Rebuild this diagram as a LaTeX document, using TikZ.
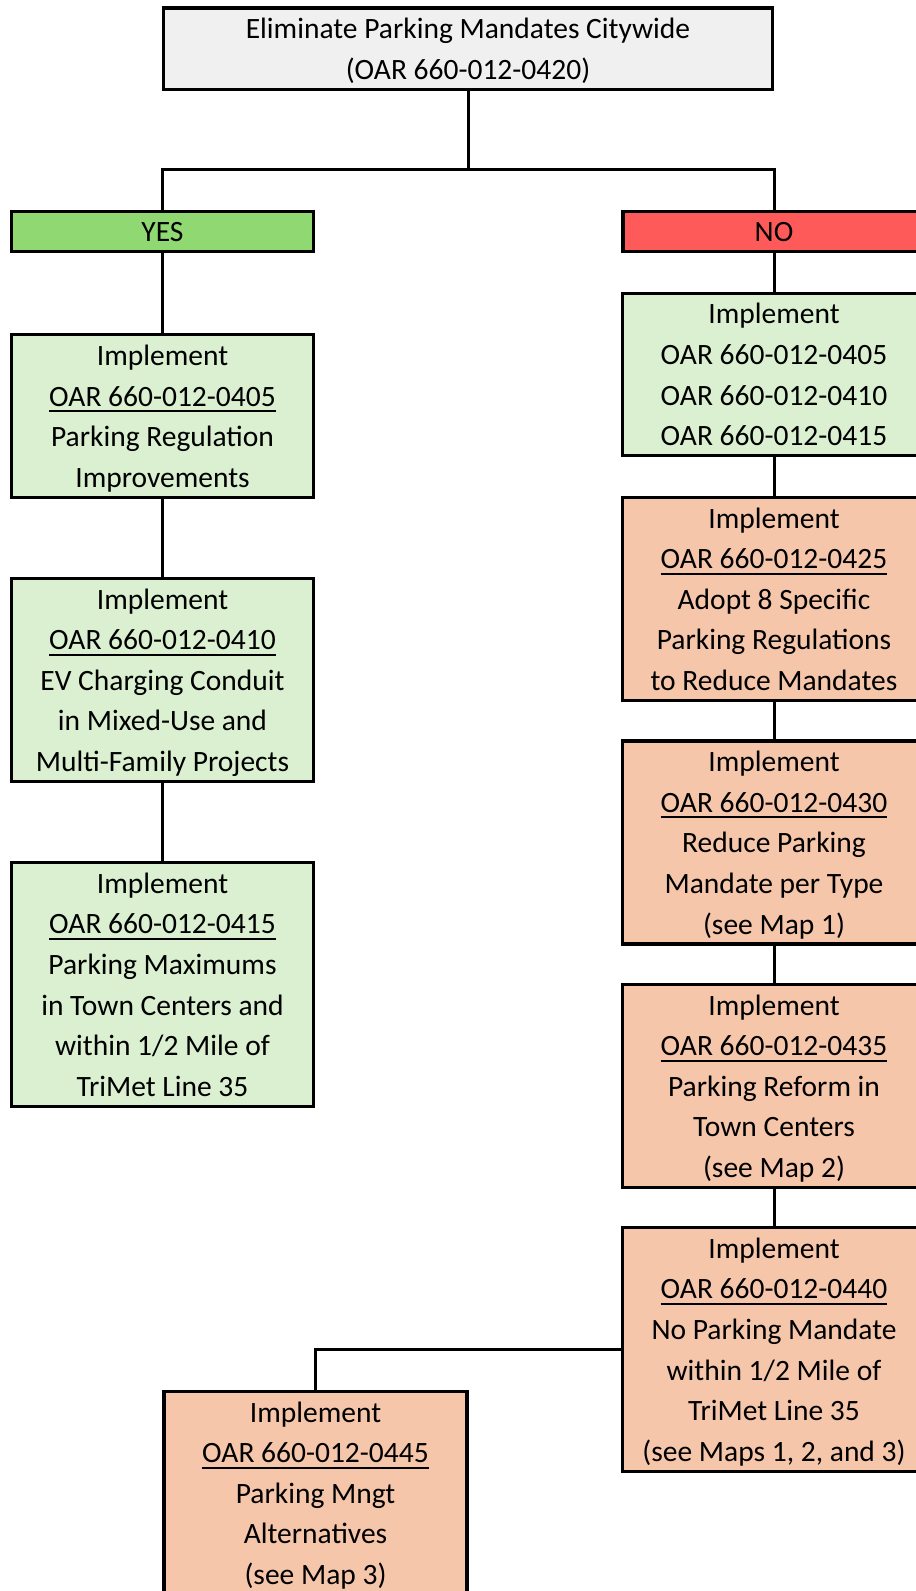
\documentclass[tikz,border=0pt]{standalone}
\usepackage{fontspec}
\setmainfont{Carlito}
\definecolor{topgray}{HTML}{F0F0F0}
\definecolor{yesgreen}{HTML}{90D872}
\definecolor{nored}{HTML}{FF5A5A}
\definecolor{lightgreen}{HTML}{DAF0D0}
\definecolor{peach}{HTML}{F5C6AA}
\newcommand\oarul[1]{\setbox0\hbox{#1}\rlap{\rule[-6pt]{\wd0}{1.9pt}}\box0}
\newcommand\tst{\rule{0pt}{30.6pt}}
\newcommand\bst{\rule[-10pt]{0pt}{10pt}}
\begin{document}
\begin{tikzpicture}[x=1pt,y=-1pt,
  box/.style={draw=black,line width=3.2pt,rectangle,inner sep=0pt,outer sep=0pt,align=center,
    font=\fontsize{29.5}{40.6}\selectfont},
  wire/.style={draw=black,line width=3pt}]
\useasboundingbox (0,0) rectangle (916,1591);
\fill[white] (0,0) rectangle (916,1591);
% top
\node[box,fill=topgray,minimum width=609,minimum height=78] (top) at (468,48.5)
  {\tst Eliminate Parking Mandates Citywide\\(OAR 660-012-0420)\bst};
\node[box,fill=yesgreen,minimum width=302,minimum height=38] (yes) at (162.5,231.5) {\tst YES\bst};
\node[box,fill=nored,minimum width=302,minimum height=38] (no) at (774,231.5) {\tst NO\bst};
% left column
\node[box,fill=lightgreen,minimum width=302,minimum height=160] (l1) at (162.5,416)
  {\tst Implement\\\oarul{OAR 660-012-0405}\\Parking Regulation\\Improvements\bst};
\node[box,fill=lightgreen,minimum width=302,minimum height=200] (l2) at (162.5,680)
  {\tst Implement\\\oarul{OAR 660-012-0410}\\EV Charging Conduit\\in Mixed-Use and\\Multi-Family Projects\bst};
\node[box,fill=lightgreen,minimum width=302,minimum height=241] (l3) at (162.5,984.5)
  {\tst Implement\\\oarul{OAR 660-012-0415}\\Parking Maximums\\in Town Centers and\\within 1/2 Mile of\\TriMet Line 35\bst};
% right column
\node[box,fill=lightgreen,minimum width=303,minimum height=159] (r1) at (774,374.5)
  {\tst Implement\\OAR 660-012-0405\\OAR 660-012-0410\\OAR 660-012-0415\bst};
\node[box,fill=peach,minimum width=303,minimum height=200] (r2) at (774,599)
  {\tst Implement\\\oarul{OAR 660-012-0425}\\Adopt 8 Specific\\Parking Regulations\\to Reduce Mandates\bst};
\node[box,fill=peach,minimum width=303,minimum height=199] (r3) at (774,842.5)
  {\tst Implement\\\oarul{OAR 660-012-0430}\\Reduce Parking\\Mandate per Type\\(see Map 1)\bst};
\node[box,fill=peach,minimum width=303,minimum height=200] (r4) at (774,1086)
  {\tst Implement\\\oarul{OAR 660-012-0435}\\Parking Reform in\\Town Centers\\(see Map 2)\bst};
\node[box,fill=peach,minimum width=303,minimum height=241] (r5) at (774,1349.5)
  {\tst Implement\\\oarul{OAR 660-012-0440}\\No Parking Mandate\\within 1/2 Mile of\\TriMet Line 35\\(see Maps 1, 2, and 3)\bst};
% bottom
\node[box,fill=peach,minimum width=303,minimum height=200] (b) at (315.5,1493)
  {\tst Implement\\\oarul{OAR 660-012-0445}\\Parking Mngt\\Alternatives\\(see Map 3)\bst};
% connectors
\coordinate (j) at (468,169);
\draw[wire] (top.south) -- (j);
\draw[wire] (yes.north) |- (j) -| (no.north);
\draw[wire] (yes.south) -- (l1.north);
\draw[wire] (l1.south) -- (l2.north);
\draw[wire] (l2.south) -- (l3.north);
\draw[wire] (no.south) -- (r1.north);
\draw[wire] (r1.south) -- (r2.north);
\draw[wire] (r2.south) -- (r3.north);
\draw[wire] (r3.south) -- (r4.north);
\draw[wire] (r4.south) -- (r5.north);
\draw[wire] (r5.west) -| (b.north);
\end{tikzpicture}
\end{document}
